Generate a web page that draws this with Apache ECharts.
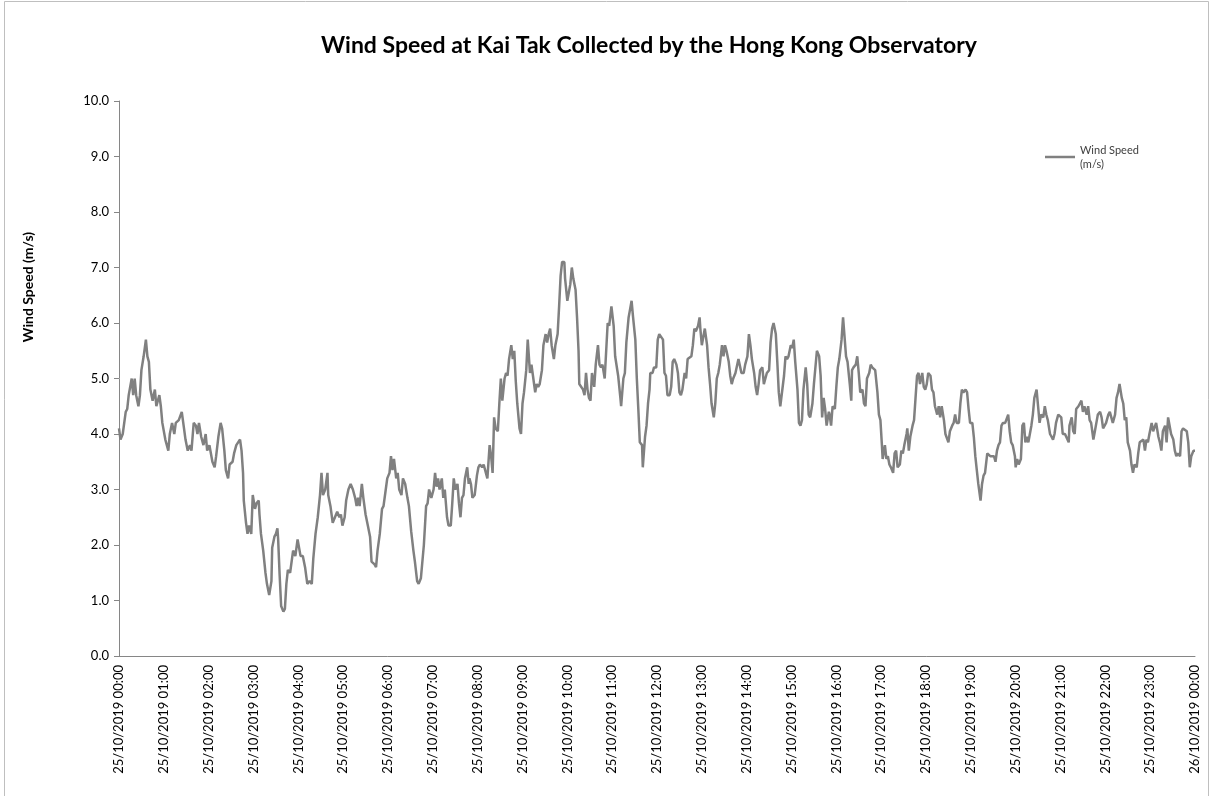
<!DOCTYPE html>
<html>
<head>
<meta charset="utf-8">
<script src="https://cdn.jsdelivr.net/npm/echarts@6/dist/echarts.min.js"></script>
<style>
	html, body { margin: 0; padding: 0; background: #fff; }
	#chart { width: 1211px; height: 796px; }
</style>
</head>
<body>
<div id="chart"></div>
<script>
// minutes after 25/10/2019 00:00
const minutes = [
	0, 2, 5, 9, 11, 13, 17, 19, 21, 23, 26, 28, 30, 33, 36, 38, 40, 42, 45, 48, 50, 54, 56, 58, 62, 66, 68, 71, 74, 76,
	80, 84, 87, 89, 92, 95, 97, 100, 103, 105, 107, 110, 113, 116, 118, 121, 123, 125, 128, 130, 133, 136, 138, 141, 143, 146, 148, 152, 154, 157,
	159, 162, 164, 166, 167, 170, 172, 174, 177, 179, 182, 184, 187, 188, 190, 193, 196, 198, 201, 204, 205, 208, 210, 212, 213, 215, 217, 220, 222, 224,
	226, 229, 233, 236, 239, 241, 243, 246, 249, 252, 255, 258, 260, 263, 266, 269, 271, 273, 276, 279, 280, 283, 286, 289, 292, 295, 297, 299, 302, 304,
	307, 310, 313, 316, 318, 320, 322, 325, 327, 330, 333, 336, 338, 342, 344, 346, 349, 352, 354, 357, 359, 362, 364, 366, 368, 371, 373, 375, 378, 380,
	383, 386, 388, 391, 394, 396, 399, 401, 404, 406, 408, 411, 413, 415, 418, 421, 423, 425, 427, 429, 432, 434, 436, 439, 441, 444, 446, 448, 450, 453,
	455, 457, 459, 461, 463, 466, 468, 469, 471, 473, 476, 479, 481, 483, 486, 488, 491, 493, 496, 498, 500, 502, 504, 507, 509, 511, 513, 516, 518, 520,
	522, 525, 527, 529, 531, 533, 536, 538, 540, 542, 545, 547, 550, 552, 554, 557, 559, 561, 563, 566, 568, 571, 573, 575, 577, 579, 582, 584, 587, 589,
	591, 593, 596, 597, 600, 602, 604, 606, 608, 611, 613, 615, 616, 618, 621, 623, 625, 627, 629, 631, 633, 636, 638, 641, 643, 645, 647, 650, 652, 654,
	656, 659, 662, 664, 666, 668, 671, 672, 675, 677, 679, 682, 684, 686, 688, 691, 693, 695, 697, 700, 701, 704, 706, 708, 710, 711, 714, 716, 719, 721,
	723, 725, 728, 730, 732, 734, 737, 739, 741, 743, 746, 748, 750, 752, 754, 757, 759, 761, 763, 766, 768, 770, 772, 775, 777, 778, 780, 782, 784, 787,
	789, 791, 793, 796, 798, 800, 802, 804, 807, 809, 811, 813, 816, 818, 820, 822, 825, 827, 829, 831, 833, 836, 838, 841, 843, 845, 847, 850, 852, 854,
	856, 858, 861, 863, 865, 867, 870, 872, 874, 876, 879, 881, 883, 885, 887, 890, 892, 894, 896, 899, 901, 903, 905, 908, 910, 912, 914, 916, 919, 921,
	923, 925, 928, 930, 932, 934, 937, 939, 941, 943, 945, 947, 950, 951, 953, 955, 958, 960, 962, 964, 967, 969, 971, 973, 975, 978, 980, 981, 983, 986,
	988, 990, 992, 995, 997, 999, 1001, 1004, 1006, 1008, 1010, 1012, 1015, 1017, 1019, 1021, 1022, 1025, 1027, 1029, 1031, 1033, 1036, 1038, 1040, 1042, 1045, 1047, 1049, 1051,
	1054, 1055, 1057, 1059, 1062, 1064, 1066, 1068, 1070, 1072, 1075, 1077, 1079, 1081, 1083, 1086, 1088, 1090, 1092, 1095, 1097, 1099, 1101, 1104, 1106, 1108, 1110, 1112, 1115, 1117,
	1119, 1121, 1124, 1126, 1128, 1130, 1133, 1135, 1137, 1139, 1142, 1144, 1146, 1148, 1150, 1153, 1155, 1157, 1159, 1162, 1164, 1166, 1168, 1171, 1173, 1175, 1177, 1179, 1181, 1183,
	1186, 1188, 1190, 1192, 1194, 1196, 1199, 1200, 1202, 1204, 1207, 1209, 1211, 1213, 1215, 1217, 1219, 1221, 1223, 1225, 1228, 1230, 1232, 1234, 1237, 1239, 1241, 1243, 1246, 1248,
	1250, 1252, 1254, 1257, 1259, 1261, 1263, 1266, 1268, 1271, 1272, 1275, 1277, 1279, 1281, 1284, 1286, 1288, 1290, 1292, 1295, 1297, 1299, 1301, 1304, 1306, 1308, 1310, 1313, 1315,
	1317, 1319, 1321, 1324, 1326, 1328, 1330, 1333, 1335, 1337, 1339, 1342, 1344, 1346, 1348, 1350, 1353, 1355, 1357, 1359, 1362, 1364, 1366, 1368, 1371, 1373, 1375, 1377, 1379, 1382,
	1384, 1386, 1388, 1391, 1393, 1395, 1397, 1400, 1402, 1404, 1406, 1408, 1411, 1413, 1415, 1417, 1420, 1422, 1424, 1426, 1429, 1431, 1433, 1435, 1438, 1440,
]

// wind speed (m/s) at each of those minutes
const windSpeed = [
	4.1, 3.9, 4.0, 4.4, 4.45, 4.7, 5.0, 4.7, 5.0, 4.7, 4.5, 4.7, 5.15, 5.4, 5.7, 5.4, 5.3, 4.8, 4.6, 4.8, 4.5, 4.7, 4.5, 4.2, 3.9, 3.7, 4.0, 4.2, 4.0, 4.2,
	4.25, 4.4, 4.1, 3.9, 3.7, 3.8, 3.7, 4.2, 4.15, 4.0, 4.2, 3.95, 3.8, 4.0, 3.7, 3.8, 3.65, 3.5, 3.4, 3.6, 3.95, 4.2, 4.1, 3.7, 3.35, 3.2, 3.45, 3.5, 3.65, 3.8,
	3.8, 3.9, 3.7, 3.3, 2.8, 2.4, 2.2, 2.35, 2.2, 2.9, 2.65, 2.75, 2.8, 2.55, 2.2, 1.9, 1.5, 1.3, 1.1, 1.35, 1.95, 2.15, 2.2, 2.3, 2.1, 1.45, 0.9, 0.8, 0.85, 1.3,
	1.55, 1.5, 1.9, 1.8, 2.1, 2.1, 1.8, 1.8, 1.6, 1.3, 1.35, 1.3, 1.75, 2.2, 2.5, 2.9, 3.3, 2.9, 3.0, 3.3, 2.9, 2.7, 2.4, 2.5, 2.6, 2.5, 2.55, 2.35, 2.5, 2.8,
	3.0, 3.1, 3.0, 2.85, 2.7, 2.85, 2.7, 3.1, 2.85, 2.55, 2.35, 2.15, 1.7, 1.65, 1.6, 1.9, 2.2, 2.65, 2.7, 3.0, 3.2, 3.3, 3.6, 3.35, 3.55, 3.2, 3.3, 3.0, 2.9, 3.2,
	3.1, 2.85, 2.7, 2.25, 1.9, 1.7, 1.35, 1.3, 1.4, 1.4, 2.0, 2.7, 2.75, 3.0, 2.85, 3.0, 3.3, 3.05, 3.2, 3.0, 3.2, 2.85, 3.0, 2.5, 2.35, 2.35, 2.75, 3.2, 3.0, 3.1,
	2.75, 2.5, 2.85, 2.9, 3.2, 3.4, 3.1, 3.2, 3.1, 2.85, 2.9, 3.25, 3.4, 3.45, 3.4, 3.45, 3.3, 3.2, 3.8, 3.6, 3.3, 4.3, 4.1, 4.05, 4.55, 5.0, 4.6, 5.0, 5.1, 5.05,
	5.35, 5.6, 5.35, 5.5, 4.95, 4.55, 4.1, 4.0, 4.55, 4.75, 5.15, 5.7, 5.1, 5.25, 5.05, 4.75, 4.9, 4.85, 4.9, 5.15, 5.6, 5.8, 5.65, 5.8, 5.9, 5.6, 5.35, 5.6, 5.8, 6.3,
	6.85, 7.1, 7.1, 6.8, 6.4, 6.55, 6.7, 7.0, 6.8, 6.6, 6.1, 5.5, 4.9, 4.9, 4.8, 4.7, 5.1, 4.8, 4.65, 4.6, 5.1, 4.85, 5.25, 5.6, 5.25, 5.2, 5.25, 5.0, 5.5, 6.0,
	5.95, 6.3, 5.95, 5.4, 5.4, 5.05, 4.65, 4.5, 5.0, 5.1, 5.65, 6.1, 6.25, 6.4, 6.1, 5.7, 5.0, 4.45, 3.85, 3.8, 3.4, 3.95, 4.15, 4.55, 4.8, 5.1, 5.1, 5.2, 5.2, 5.7,
	5.8, 5.8, 5.7, 5.1, 5.05, 4.7, 4.7, 4.85, 5.3, 5.35, 5.25, 5.1, 4.75, 4.7, 4.8, 5.1, 5.0, 5.35, 5.35, 5.4, 5.6, 5.9, 5.85, 5.95, 6.1, 5.9, 5.6, 5.75, 5.9, 5.6,
	5.2, 4.9, 4.55, 4.3, 4.55, 5.0, 5.1, 5.25, 5.6, 5.4, 5.6, 5.5, 5.3, 5.05, 4.9, 5.0, 5.1, 5.1, 5.35, 5.35, 5.1, 5.1, 5.25, 5.4, 5.8, 5.6, 5.35, 5.1, 4.85, 4.7,
	4.9, 5.15, 5.2, 4.9, 4.9, 5.1, 5.15, 5.65, 5.9, 6.0, 5.8, 5.3, 4.75, 4.5, 4.5, 5.05, 5.4, 5.35, 5.4, 5.6, 5.55, 5.7, 5.3, 4.8, 4.2, 4.15, 4.25, 4.8, 5.2, 4.9,
	4.35, 4.3, 4.55, 4.9, 4.9, 5.5, 5.4, 5.05, 4.3, 4.65, 4.45, 4.15, 4.4, 4.35, 4.15, 4.5, 4.45, 4.85, 5.2, 5.35, 5.7, 6.1, 5.75, 5.4, 5.3, 4.9, 4.6, 5.15, 5.2, 5.25,
	5.4, 5.1, 4.75, 4.8, 4.55, 4.5, 5.0, 5.1, 5.25, 5.2, 5.2, 5.15, 4.75, 4.35, 4.25, 3.8, 3.55, 3.8, 3.55, 3.6, 3.45, 3.4, 3.3, 3.65, 3.7, 3.4, 3.45, 3.7, 3.65, 3.8,
	4.0, 4.1, 3.7, 3.95, 4.15, 4.25, 4.65, 5.05, 5.1, 4.9, 5.1, 4.85, 4.8, 4.9, 5.1, 5.05, 4.8, 4.75, 4.5, 4.35, 4.5, 4.3, 4.5, 4.25, 4.0, 4.0, 3.85, 4.05, 4.15, 4.2,
	4.35, 4.2, 4.2, 4.55, 4.8, 4.75, 4.8, 4.75, 4.45, 4.2, 4.2, 3.95, 3.6, 3.35, 3.1, 2.8, 3.1, 3.25, 3.3, 3.65, 3.65, 3.6, 3.6, 3.6, 3.5, 3.7, 3.8, 3.85, 4.15, 4.2,
	4.2, 4.2, 4.35, 4.05, 3.85, 3.8, 3.6, 3.4, 3.55, 3.45, 3.55, 4.15, 4.2, 3.85, 3.95, 3.85, 3.85, 4.15, 4.35, 4.65, 4.8, 4.5, 4.2, 4.35, 4.3, 4.5, 4.35, 4.25, 4.0, 3.95,
	3.9, 4.0, 4.2, 4.35, 4.35, 4.3, 4.0, 4.0, 4.0, 3.85, 4.15, 4.3, 4.05, 4.0, 4.45, 4.5, 4.5, 4.6, 4.4, 4.5, 4.35, 4.5, 4.25, 4.2, 3.9, 4.05, 4.2, 4.35, 4.4, 4.3,
	4.1, 4.1, 4.2, 4.35, 4.4, 4.3, 4.2, 4.35, 4.65, 4.75, 4.9, 4.65, 4.55, 4.25, 4.3, 3.85, 3.7, 3.45, 3.3, 3.45, 3.4, 3.65, 3.85, 3.85, 3.9, 3.7, 3.9, 3.85, 4.0, 4.2,
	4.05, 4.05, 4.2, 3.95, 3.85, 3.7, 4.05, 4.15, 3.85, 4.3, 4.3, 4.0, 3.9, 3.7, 3.6, 3.65, 3.6, 4.05, 4.1, 4.1, 4.05, 3.85, 3.4, 3.6, 3.7, 3.7,
]

const hourLabels = [
	'25/10/2019 00:00', '25/10/2019 01:00', '25/10/2019 02:00', '25/10/2019 03:00', '25/10/2019 04:00',
	'25/10/2019 05:00', '25/10/2019 06:00', '25/10/2019 07:00', '25/10/2019 08:00', '25/10/2019 09:00',
	'25/10/2019 10:00', '25/10/2019 11:00', '25/10/2019 12:00', '25/10/2019 13:00', '25/10/2019 14:00',
	'25/10/2019 15:00', '25/10/2019 16:00', '25/10/2019 17:00', '25/10/2019 18:00', '25/10/2019 19:00',
	'25/10/2019 20:00', '25/10/2019 21:00', '25/10/2019 22:00', '25/10/2019 23:00', '26/10/2019 00:00',
]

const font = 'Lato, "Open Sans", sans-serif'
const axisGrey = '#868686'

const myChart = echarts.init(document.getElementById('chart'), null, { renderer: 'canvas' })

let option = {
	backgroundColor: '#fff',
	animation: false,
	title: {
		text: 'Wind Speed at Kai Tak Collected by the Hong Kong Observatory',
		left: 316,
		top: 29,
		textStyle: { fontFamily: font, fontSize: 23, fontWeight: 'bold', color: '#000' },
	},
	// chart area frame and the y axis title
	graphic: [
		{
			type: 'rect',
			silent: true,
			shape: { x: 4.5, y: 1.5, width: 1204, height: 810 },
			style: { fill: null, stroke: '#bfbfbf', lineWidth: 1 },
		},
		{
			type: 'text',
			x: 28,
			y: 287,
			rotation: Math.PI / 2,
			style: {
				text: 'Wind Speed (m/s)',
				align: 'center',
				verticalAlign: 'middle',
				fontFamily: font,
				fontSize: 14,
				fontWeight: 'bold',
				fill: '#000',
			},
		},
	],
	legend: {
		left: 1040,
		top: 131,
		icon: 'rect',
		itemWidth: 30,
		itemHeight: 2.5,
		itemGap: 5,
		formatter: () => 'Wind Speed\n(m/s)',
		textStyle: { fontFamily: font, fontSize: 11, color: '#404040', lineHeight: 14, padding: [14, 0, 0, 0] },
	},
	grid: {
		left: 119,
		right: 16,
		top: 101,
		bottom: 140,
	},
	xAxis: {
		type: 'value',
		min: 0,
		max: 1440,
		interval: 60,
		axisLine: { lineStyle: { color: axisGrey, width: 1 } },
		axisTick: { show: false },
		splitLine: { show: false },
		axisLabel: {
			rotate: 90,
			margin: 9,
			fontFamily: font,
			fontSize: 13,
			color: '#000',
			formatter: (v) => hourLabels[Math.round(v / 60)],
		},
	},
	yAxis: {
		type: 'value',
		min: 0,
		max: 10,
		interval: 1,
		axisLine: { show: true, lineStyle: { color: axisGrey, width: 1 } },
		axisTick: { show: true, length: 5, lineStyle: { color: axisGrey } },
		splitLine: { show: false },
		axisLabel: {
			margin: 10,
			fontFamily: font,
			fontSize: 13,
			color: '#000',
			formatter: (v) => v.toFixed(1),
		},
	},
	series: [
		{
			name: 'Wind Speed (m/s)',
			type: 'line',
			data: minutes.map((m, i) => [m, windSpeed[i]]),
			showSymbol: false,
			lineStyle: { color: '#808080', width: 2.5 },
			itemStyle: { color: '#808080' },
		},
	],
}
myChart.setOption(option)

window.addEventListener('resize', () => {
	myChart.resize()
})
</script>
</body>
</html>
